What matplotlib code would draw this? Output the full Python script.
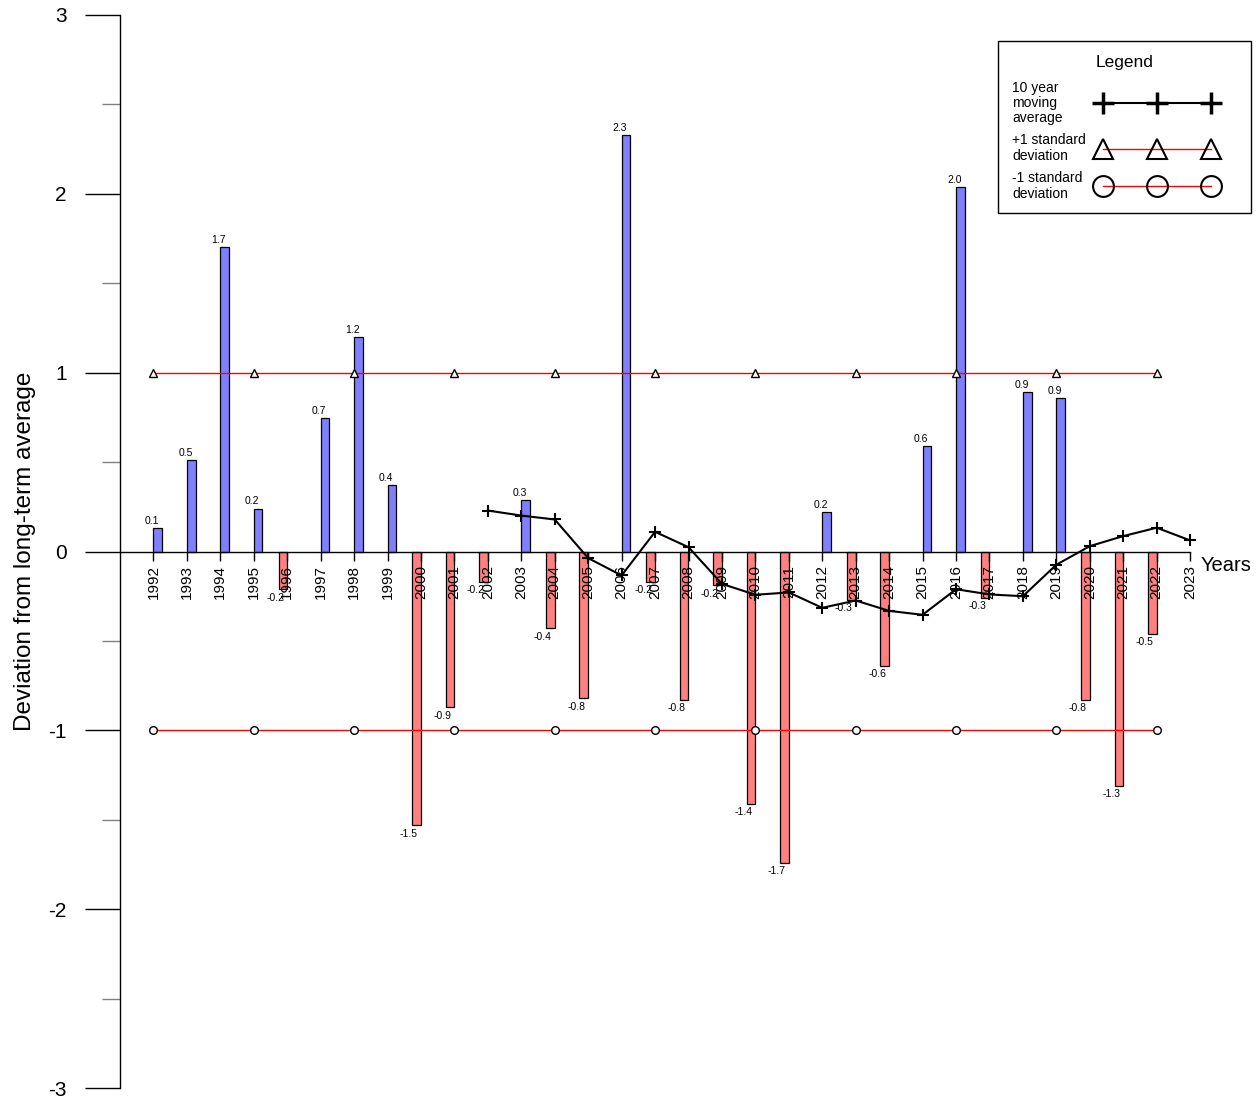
import numpy as np
import matplotlib
matplotlib.use("Agg")
import matplotlib.pyplot as plt
from matplotlib.lines import Line2D
from matplotlib.patches import Rectangle

plt.rcParams["font.family"] = ["Liberation Sans", "DejaVu Sans"]

# Yearly deviation from the long-term average (2023 has no value)
years = list(range(1992, 2024))
deviation = [0.13, 0.51, 1.70, 0.24, -0.21, 0.745, 1.20, 0.37, -1.53, -0.87,
             -0.17, 0.29, -0.43, -0.82, 2.33, -0.17, -0.83, -0.19, -1.41, -1.74,
             0.22, -0.27, -0.64, 0.59, 2.04, -0.26, 0.89, 0.86, -0.83, -1.31,
             -0.46, np.nan]

# 10 year moving average
ma_years = list(range(2002, 2024))
moving_avg = [0.229, 0.201, 0.179, -0.037, -0.134, 0.110, 0.024, -0.181,
              -0.242, -0.229, -0.315, -0.274, -0.332, -0.354, -0.211, -0.240,
              -0.250, -0.074, 0.030, 0.086, 0.133, 0.062]

# +/- 1 standard deviation bands
sd_years = list(range(1992, 2023))
plus_sd = [1.0] * len(sd_years)
minus_sd = [-1.0] * len(sd_years)

W, H = 1257, 1099
fig = plt.figure(figsize=(W / 100, H / 100), dpi=100)
ax = fig.add_axes([120 / W, 1 - 1088 / H, 1137 / W, 1073 / H])

bar_w = 0.26
dev = np.array(deviation, dtype=float)
yrs = np.array(years, dtype=float)
pos = dev > 0
neg = dev < 0
ax.bar(yrs[pos], dev[pos], width=bar_w, align="edge", color="#8080FF",
       edgecolor="black", linewidth=0.9, zorder=1)
ax.bar(yrs[neg] - bar_w, dev[neg], width=bar_w, align="edge", color="#FF8080",
       edgecolor="black", linewidth=0.9, zorder=1)

# value labels, right-aligned on the bar centre
for x, v in zip(yrs, dev):
    if np.isnan(v):
        continue
    cx = x + bar_w / 2 if v > 0 else x - bar_w / 2
    if v > 0:
        ax.annotate(f"{v:.1f}", (cx, v), xytext=(1, 1.5), textcoords="offset points",
                    ha="right", va="bottom", fontsize=7.5)
    else:
        ax.annotate(f"{v:.1f}", (cx, v), xytext=(1, -2.5), textcoords="offset points",
                    ha="right", va="top", fontsize=7.5)

# standard deviation lines
ax.plot(sd_years, plus_sd, color="red", lw=1, marker="^", markevery=3,
        markersize=6, mfc="white", mec="black", mew=1, zorder=3)
ax.plot(sd_years, minus_sd, color="red", lw=1, marker="o", markevery=3,
        markersize=5.5, mfc="white", mec="black", mew=1, zorder=3)

# moving average
ax.plot(ma_years, moving_avg, color="black", lw=1.5, marker="+",
        markersize=8, mew=1.5, zorder=4)

ax.set_xlim(1991, 2025)
ax.set_ylim(-3, 3)

for s in ["top", "right"]:
    ax.spines[s].set_visible(False)
ax.spines["bottom"].set_position(("data", 0))
ax.spines["bottom"].set_bounds(1991, 2023)
ax.spines["bottom"].set_linewidth(1)
ax.spines["left"].set_linewidth(1)

ax.set_xticks(years)
ax.set_xticklabels([str(y) for y in years], rotation=90, fontsize=11)
ax.tick_params(axis="x", direction="out", length=6.5, width=1, pad=3)

ax.set_yticks([-3, -2, -1, 0, 1, 2, 3])
ax.set_yticklabels(["-3", "-2", "-1", "0", "1", "2", "3"], fontsize=15)
ax.set_yticks(np.arange(-2.5, 3.0, 1.0), minor=True)
ax.tick_params(axis="y", which="major", length=25, width=1, pad=13.5, color="black")
ax.tick_params(axis="y", which="minor", length=13, width=1, color="#808080")

ax.set_ylabel("Deviation from long-term average", fontsize=17.5)
ax.yaxis.set_label_coords(-0.0735, 0.5)

ax.text(2023.3, -0.08, "Years", ha="left", va="center", fontsize=14.5)

# legend box drawn in figure pixel space
def fx(px):
    return px / W


def fy(py):
    return 1 - py / H


fig.patches.append(Rectangle((fx(998), fy(213)), fx(1251) - fx(998), fy(41) - fy(213),
                             transform=fig.transFigure, fill=False,
                             edgecolor="black", linewidth=1))
fig.text(fx(1125), fy(63), "Legend", ha="center", va="center", fontsize=12.5)
fig.text(fx(1012), fy(103), "10 year\nmoving\naverage", ha="left", va="center",
         fontsize=10, linespacing=1.12)
fig.text(fx(1012), fy(148), "+1 standard\ndeviation", ha="left", va="center",
         fontsize=10, linespacing=1.12)
fig.text(fx(1012), fy(186), "-1 standard\ndeviation", ha="left", va="center",
         fontsize=10, linespacing=1.12)
mx = [fx(1103), fx(1157), fx(1211)]
fig.lines.append(Line2D(mx, [fy(103)] * 3, transform=fig.transFigure, color="black",
                        lw=1.5, marker="+", markersize=16, mew=2.5))
fig.lines.append(Line2D(mx, [fy(149)] * 3, transform=fig.transFigure, color="red",
                        lw=1, marker="^", markersize=15, mfc="none", mec="black", mew=1.5))
fig.lines.append(Line2D(mx, [fy(186)] * 3, transform=fig.transFigure, color="red",
                        lw=1, marker="o", markersize=15, mfc="none", mec="black", mew=1.5))

fig.savefig("out.png", dpi=100)
